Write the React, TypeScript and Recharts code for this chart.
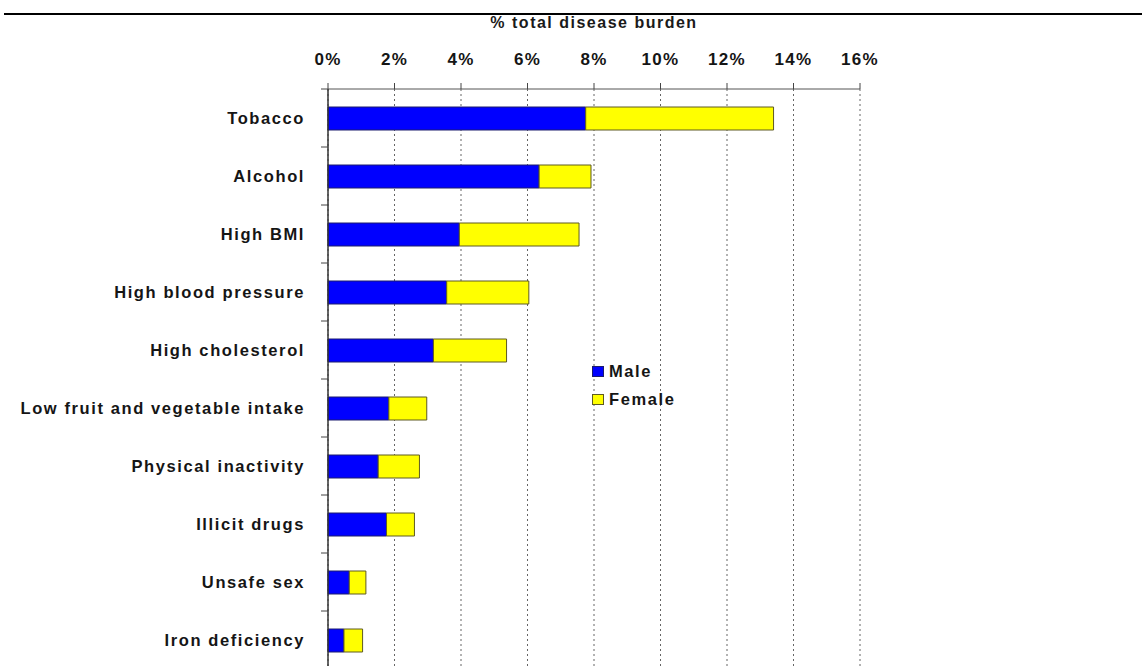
import React from 'react';
import { BarChart, Bar, XAxis, YAxis, CartesianGrid, Label } from 'recharts';

const factors = [
  'Tobacco',
  'Alcohol',
  'High BMI',
  'High blood pressure',
  'High cholesterol',
  'Low fruit and vegetable intake',
  'Physical inactivity',
  'Illicit drugs',
  'Unsafe sex',
  'Iron deficiency',
];
const maleShare = [7.75, 6.35, 3.95, 3.57, 3.17, 1.83, 1.51, 1.76, 0.64, 0.48];
const femaleShare = [5.65, 1.56, 3.6, 2.47, 2.2, 1.14, 1.24, 0.84, 0.5, 0.56];
const pctTicks = [0, 2, 4, 6, 8, 10, 12, 14, 16];

const series = [
  { key: 'male', label: 'Male', fill: '#0000ff', stroke: '#1c1c6e' },
  { key: 'female', label: 'Female', fill: '#ffff00', stroke: '#5e5a22' },
];

const data = factors.map((name, i) => ({ name, male: maleShare[i], female: femaleShare[i] }));

const FONT = '"Liberation Sans", Arial, Helvetica, sans-serif';
const PLOT_H = 580;
const band = PLOT_H / factors.length;

const XTick = ({ x, y, payload }: any) => (
  <text x={x} y={y - 16.5} textAnchor="middle" fontFamily={FONT} fontWeight="bold"
    fontSize={17} letterSpacing={1.3} fill="#151515">
    {`${payload.value}%`}
  </text>
);

const YTick = ({ y, payload }: any) => (
  <g>
    <line x1={321} x2={328} y1={y - band / 2} y2={y - band / 2} stroke="#444" />
    <text x={305} y={y} dy={6} textAnchor="end" fontFamily={FONT} fontWeight="bold"
      fontSize={16.5} letterSpacing={1.6} fill="#151515">
      {payload.value}
    </text>
  </g>
);

// legend sits inside the plot, next to the 8% grid line
const LegendBox = () => (
  <div style={{ position: 'absolute', left: 592, top: 357, fontFamily: FONT, fontWeight: 'bold',
    fontSize: 16.5, letterSpacing: 1.6, color: '#151515' }}>
    {series.map((s) => (
      <div key={s.key} style={{ display: 'flex', alignItems: 'center', height: 28 }}>
        <span style={{ width: 10, height: 9, background: s.fill, border: `1px solid ${s.stroke}`, marginRight: 5 }} />
        {s.label}
      </div>
    ))}
  </div>
);

export default function App() {
  return (
    <div style={{ position: 'absolute', left: 0, top: 0, width: 1142, height: 666, overflow: 'hidden', background: '#fff' }}>
      <div style={{ position: 'absolute', left: 4, top: 13, width: 1138, height: 2, background: '#000' }} />
      <BarChart width={1142} height={700} data={data} layout="vertical" barSize={23}
        margin={{ top: 0, right: 282, bottom: 31, left: 0 }}>
        <CartesianGrid horizontal={false} stroke="#666" strokeDasharray="2 3" />
        <XAxis type="number" orientation="top" height={89} domain={[0, 16]} ticks={pctTicks}
          interval={0} tick={<XTick />} tickSize={6} stroke="#444" axisLine={{ stroke: '#555' }}>
          <Label value="% total disease burden" position="insideTop" offset={17}
            style={{ fontFamily: FONT, fontWeight: 'bold', fontSize: 16, letterSpacing: 1.5, fill: '#1a1a1a' }} />
        </XAxis>
        <YAxis type="category" dataKey="name" width={328} tickLine={false} interval={0}
          tick={<YTick />} axisLine={{ stroke: '#333', strokeWidth: 1.5 }} />
        {series.map((s) => (
          <Bar key={s.key} dataKey={s.key} name={s.label} stackId="s" fill={s.fill} stroke={s.stroke}
            strokeWidth={1} isAnimationActive={false} />
        ))}
      </BarChart>
      <LegendBox />
    </div>
  );
}
